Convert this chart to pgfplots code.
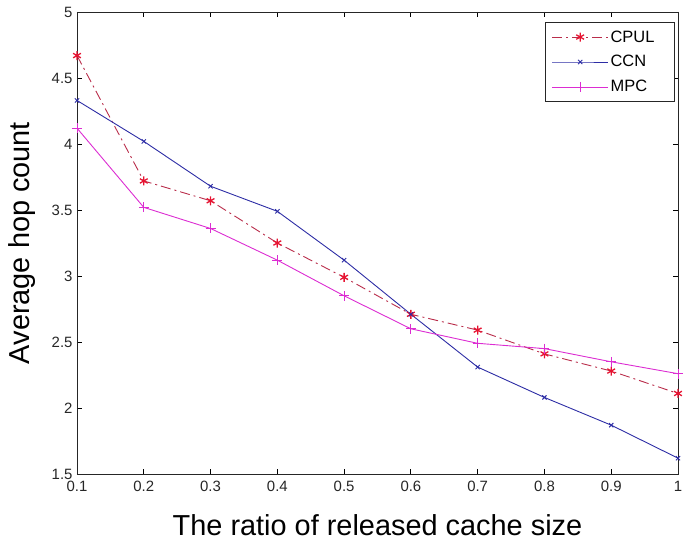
\documentclass[border=0pt]{standalone}
\usepackage{fontspec}
\setmainfont{Liberation Sans}
\usepackage{pgfplots}
\pgfplotsset{compat=1.18}
\usetikzlibrary{calc}
\definecolor{cpulline}{RGB}{185,45,75}
\definecolor{cpulmark}{RGB}{230,20,50}
\definecolor{ccn}{RGB}{45,45,165}
\definecolor{mpc}{RGB}{220,45,210}
\begin{document}
\begin{tikzpicture}
\begin{axis}[
  name=ax,
  scale only axis,
  width=601bp, height=462bp,
  xmin=0.1, xmax=1, ymin=1.5, ymax=5,
  xtick={0.1,0.2,0.3,0.4,0.5,0.6,0.7,0.8,0.9,1},
  xticklabels={0.1,0.2,0.3,0.4,0.5,0.6,0.7,0.8,0.9,1},
  ytick={1.5,2,2.5,3,3.5,4,4.5,5},
  yticklabels={1.5,2,2.5,3,3.5,4,4.5,5},
  tick align=inside,
  major tick length=5bp,
  tick style={black, line width=0.8bp},
  axis line style={black!85, line width=0.9bp},
  ticklabel style={font=\fontsize{15}{15}\selectfont, text=black!85},
  xticklabel style={yshift=-4bp},
  yticklabel style={xshift=-1bp},
  xlabel={The ratio of released cache size},
  ylabel={Average hop count},
  every axis x label/.style={at={(axis description cs:0.5,-0.110)}, anchor=center, font=\fontsize{29}{29}\selectfont},
  every axis y label/.style={at={(axis description cs:-0.0915,0.5)}, rotate=90, anchor=center, font=\fontsize{29}{29}\selectfont},
  legend style={at={(0.995,0.978)}, anchor=north east, draw=black!85, line width=0.8bp,
    font=\fontsize{16.5}{16.5}\selectfont, inner xsep=6bp, inner ysep=6bp, row sep=8bp,
    cells={anchor=west}},
  legend image code/.code={\draw[mark repeat=2, mark phase=2, #1] plot coordinates {(0bp,0bp) (28bp,0bp) (56bp,0bp)};},
  legend cell align=left,
]
\addplot[color=cpulline, line width=0.9bp, dash pattern=on 10bp off 4bp on 2bp off 4bp,
  mark=asterisk, mark size=4.5bp, mark options={cpulmark, solid, line width=1.3bp}]
  coordinates {(0.1,4.67) (0.2,3.72) (0.3,3.57) (0.4,3.25) (0.5,2.99) (0.6,2.71) (0.7,2.59) (0.8,2.41) (0.9,2.28) (1.0,2.11)};
\addlegendentry{\makebox[56bp][l]{CPUL}}
\addplot[color=ccn, line width=0.9bp, mark=x, mark size=3bp, mark options={solid}]
  coordinates {(0.1,4.33) (0.2,4.02) (0.3,3.68) (0.4,3.49) (0.5,3.12) (0.6,2.71) (0.7,2.31) (0.8,2.08) (0.9,1.87) (1.0,1.62)};
\addlegendentry{CCN}
\addplot[color=mpc, line width=0.9bp, mark=+, mark size=5bp, mark options={solid, mpc}]
  coordinates {(0.1,4.12) (0.2,3.52) (0.3,3.36) (0.4,3.12) (0.5,2.85) (0.6,2.60) (0.7,2.49) (0.8,2.45) (0.9,2.35) (1.0,2.26)};
\addlegendentry{MPC}
\end{axis}
\pgfresetboundingbox
\path[use as bounding box] ($(ax.south west)+(-77bp,-66bp)$) rectangle ($(ax.south west)+(608bp,474bp)$);
\end{tikzpicture}
\end{document}
